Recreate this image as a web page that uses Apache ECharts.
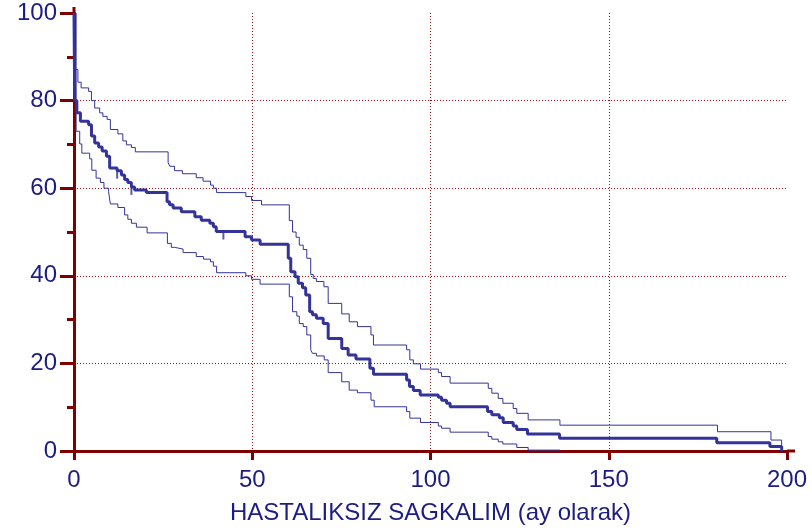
<!DOCTYPE html>
<html>
<head>
<meta charset="utf-8">
<script src="https://cdn.jsdelivr.net/npm/echarts@6/dist/echarts.min.js"></script>
<style>
html,body{margin:0;padding:0;background:#fff;}
#c{width:812px;height:532px;}
</style>
</head>
<body>
<div id="c"></div>
<script>
// Kaplan-Meier estimate (time in months, survival %)
var survival = [[0,100],[0.2,80],[0.8,77.2],[1.8,75.3],[4.1,74.5],[4.9,71.9],[5.8,70.3],[6.9,69.4],[7.9,68.5],[9.1,67.3],[10.0,64.6],[12.1,64.0],[13.3,63.0],[14.2,62.0],[15.1,61.3],[16.1,60.3],[17.0,59.6],[20.3,59.0],[26.1,56.9],[26.8,56.2],[27.8,55.5],[30.1,54.6],[33.9,53.5],[35.7,52.7],[38.1,52.0],[39.1,51.2],[39.9,50.1],[48.0,48.9],[49.8,48.2],[52.2,47.2],[60.1,44.0],[60.8,40.9],[62.0,39.8],[62.9,38.3],[64.1,37.3],[65.0,35.6],[66.1,31.8],[66.9,31.1],[68.0,30.3],[69.9,29.1],[71.3,25.7],[75.1,23.4],[76.9,21.9],[79.1,21.0],[83.0,18.9],[84.0,17.5],[93.3,16.2],[94.1,14.7],[95.2,13.8],[97.1,12.8],[102.2,12.3],[103.1,11.6],[104.5,10.9],[105.5,10.1],[116.0,9.0],[117.2,8.3],[119.3,7.6],[120.4,6.5],[123.2,5.7],[124.2,4.9],[127.2,3.9],[136.2,2.9],[180.3,1.9],[195.2,1.0],[198.5,0]];
// upper confidence limit
var upperCI = [[0,100],[0.2,87.1],[1.1,84.2],[2.0,82.9],[4.1,82.1],[4.9,80.0],[5.8,78.3],[7.2,77.2],[8.1,76.4],[9.3,75.7],[10.2,73.4],[12.3,72.4],[13.7,70.8],[14.7,69.9],[16.1,69.3],[17.2,68.3],[26.4,65.8],[26.9,65.0],[28.2,64.0],[30.4,63.3],[34.3,62.4],[36.2,61.6],[38.3,60.7],[39.1,60.0],[40.0,59.0],[48.2,58.1],[49.8,57.2],[52.6,56.2],[60.4,52.6],[61.3,50.0],[62.3,48.8],[63.2,47.0],[64.3,46.0],[65.3,44.0],[66.4,40.3],[67.1,39.4],[68.0,38.7],[70.1,37.5],[71.3,33.7],[75.1,31.3],[77.2,29.5],[79.5,28.4],[83.3,26.5],[84.0,24.2],[93.3,23.1],[94.2,20.8],[95.2,19.9],[97.2,18.7],[102.2,17.9],[103.1,17.0],[105.5,15.5],[116.2,14.3],[117.2,13.2],[119.0,12.0],[120.3,10.9],[123.2,9.7],[124.2,8.6],[127.4,7.1],[136.3,5.9],[180.5,4.4],[195.5,2.5],[198.5,0]];
// lower confidence limit
var lowerCI = [[0,100],[0.6,73.0],[1.6,70.1],[2.2,68.0],[4.4,66.7],[5.0,64.1],[6.2,62.3],[7.4,61.3],[8.4,60.0],[9.7,59.2],[10.2,56.4],[12.3,55.6],[14.2,53.9],[15.1,52.9],[16.1,52.0],[17.5,51.1],[20.5,49.8],[26.2,47.4],[27.3,46.5],[28.2,46.1],[30.6,45.3],[34.3,44.4],[36.3,43.8],[38.3,43.2],[39.1,42.2],[40.0,40.7],[48.2,40.0],[49.8,39.2],[52.2,38.1],[60.4,35.2],[61.3,31.8],[62.5,30.8],[63.2,29.1],[64.3,28.4],[65.3,26.5],[66.4,23.1],[66.9,22.3],[68.0,21.7],[70.2,20.8],[71.3,17.9],[75.1,15.8],[77.2,13.9],[79.5,13.3],[83.3,11.6],[84.2,10.1],[93.3,9.0],[94.2,7.5],[97.2,6.5],[102.2,5.7],[103.1,5.2],[105.5,4.3],[116.2,3.3],[117.2,2.7],[119.0,2.1],[120.3,1.6],[124.2,0.8],[127.4,0.2],[136.3,0]];
// censored observations on the estimate
var censored = [[12.1,64.0],[16.1,60.3],[41.9,50.1]];
var xTicks = [0,50,100,150,200];
var yTicks = [0,20,40,60,80,100];
var xTitle = 'HASTALIKSIZ SAGKALIM (ay olarak)';

var axisRed = '#800000';
var gridRed = '#a01010';
var lineBlue = '#333399';
var textBlue = '#1c1c82';
var font = '"Liberation Sans", Arial, sans-serif';

var chart = echarts.init(document.getElementById('c'), null, {renderer:'canvas'});
chart.setOption({
  animation: false,
  backgroundColor: '#ffffff',
  grid: {left: 74, right: 25, top: 13, bottom: 81, containLabel: false},
  xAxis: {
    type: 'value', min: xTicks[0], max: xTicks[xTicks.length-1], interval: 50,
    name: xTitle, nameLocation: 'middle', nameGap: 50,
    nameTextStyle: {color: textBlue, fontSize: 24, fontFamily: font},
    axisLine: {lineStyle: {color: axisRed, width: 3}},
    axisTick: {show: true, length: 9, lineStyle: {color: axisRed, width: 3}},
    axisLabel: {color: textBlue, fontSize: 24, fontFamily: font, margin: 17},
    splitLine: {show: true, showMinLine: false, showMaxLine: false, lineStyle: {color: gridRed, width: 1, type: [1,2]}}
  },
  yAxis: {
    type: 'value', min: yTicks[0], max: yTicks[yTicks.length-1], interval: 20,
    axisLine: {show: true, lineStyle: {color: axisRed, width: 3}},
    axisTick: {show: true, length: 14, lineStyle: {color: axisRed, width: 3}},
    minorTick: {show: true, splitNumber: 2, length: 7, lineStyle: {color: axisRed, width: 3}},
    axisLabel: {color: textBlue, fontSize: 24, fontFamily: font, margin: 17},
    splitLine: {show: true, showMinLine: false, showMaxLine: false, lineStyle: {color: gridRed, width: 1, type: [1,2]}}
  },
  series: [
    {type: 'line', data: upperCI, step: 'end', showSymbol: false, lineStyle: {color: lineBlue, width: 1}, z: 3},
    {type: 'line', data: lowerCI, step: 'end', showSymbol: false, lineStyle: {color: lineBlue, width: 1}, z: 3},
    {type: 'line', data: survival, step: 'end', showSymbol: false, lineStyle: {color: lineBlue, width: 3}, z: 4},
    {type: 'scatter', data: censored, symbol: 'rect', symbolSize: [2, 8], symbolOffset: [0, 4],
     itemStyle: {color: lineBlue}, z: 5}
  ],
  graphic: [
    {type: 'line', shape: {x1: 787, y1: 451, x2: 795, y2: 451}, style: {stroke: axisRed, lineWidth: 3}},
    {type: 'line', shape: {x1: 74, y1: 7, x2: 74, y2: 13}, style: {stroke: axisRed, lineWidth: 3}}
  ]
});
</script>
</body>
</html>
